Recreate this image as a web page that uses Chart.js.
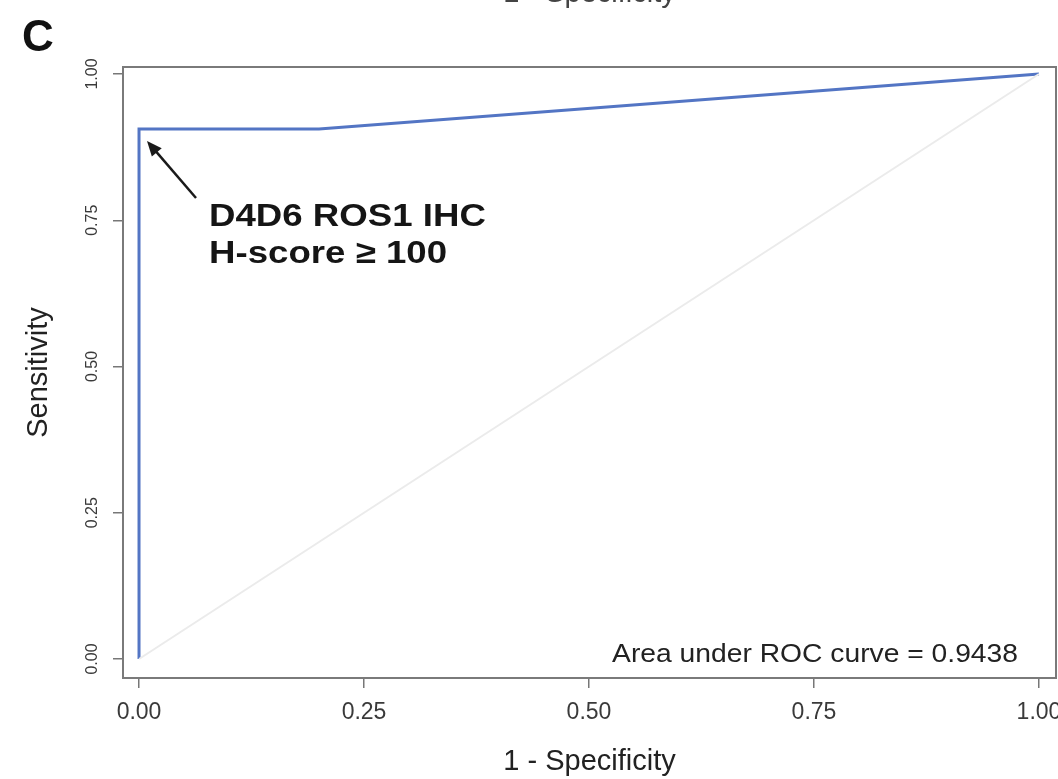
<!DOCTYPE html>
<html>
<head>
<meta charset="utf-8">
<script src="https://cdn.jsdelivr.net/npm/chart.js@4/dist/chart.umd.min.js"></script>
<style>
  html, body { margin: 0; padding: 0; background: #ffffff; }
  #wrap { width: 1058px; height: 779px; position: relative; }
</style>
</head>
<body>
<div id="wrap"><canvas id="c" width="1058" height="779"></canvas></div>
<script>
// ---- data ----
const fpr = [0, 0, 0.2, 1];            // 1 - Specificity
const tpr = [0, 0.906, 0.906, 1];      // Sensitivity
const refX = [0, 1];                   // chance diagonal
const refY = [0, 1];
const cutIndex = 1;                    // point marked by the arrow
const xTickValues = [0, 0.25, 0.5, 0.75, 1];
const xTickLabels = ['0.00', '0.25', '0.50', '0.75', '1.00'];
const yTickValues = [0, 0.25, 0.5, 0.75, 1];
const yTickLabels = ['0.00', '0.25', '0.50', '0.75', '1.00'];
const xTitle = '1 - Specificity';
const yTitle = 'Sensitivity';
const panelLabel = 'C';
const prevPanelTitle = '1 - Specificity';
const cutoffLabel = ['D4D6 ROS1 IHC', 'H-score \u2265 100'];
const aucText = 'Area under ROC curve = 0.9438';

const FONT = '"Liberation Sans", Arial, Helvetica, sans-serif';

const rocPoints = fpr.map((v, i) => ({ x: v, y: tpr[i] }));
const refPoints = refX.map((v, i) => ({ x: v, y: refY[i] }));

const decor = {
  id: 'decor',
  afterDraw(chart) {
    const { ctx, chartArea: a, scales: { x, y } } = chart;
    ctx.save();
    // plot box
    ctx.strokeStyle = '#7a7a7a';
    ctx.lineWidth = 2;
    ctx.strokeRect(a.left, a.top, a.right - a.left, a.bottom - a.top);

    // panel letter
    ctx.fillStyle = '#111111';
    ctx.font = 'bold 44px ' + FONT;
    ctx.textAlign = 'left';
    ctx.textBaseline = 'alphabetic';
    ctx.fillText(panelLabel, 22, 51);

    // cropped title of previous panel at the very top
    ctx.fillStyle = '#444444';
    ctx.font = '29px ' + FONT;
    ctx.textAlign = 'center';
    ctx.fillText(prevPanelTitle, (a.left + a.right) / 2, 2);

    // arrow to the cut-off point
    const px = x.getPixelForValue(fpr[cutIndex]);
    const py = y.getPixelForValue(tpr[cutIndex]);
    const tipX = px + 8, tipY = py + 12;
    const tailX = px + 57, tailY = py + 69;
    const ang = Math.atan2(tipY - tailY, tipX - tailX);
    const hl = 15, hw = 6.5;
    ctx.strokeStyle = '#1a1a1a';
    ctx.fillStyle = '#1a1a1a';
    ctx.lineWidth = 2.5;
    ctx.beginPath();
    ctx.moveTo(tailX, tailY);
    ctx.lineTo(tipX - Math.cos(ang) * hl * 0.8, tipY - Math.sin(ang) * hl * 0.8);
    ctx.stroke();
    ctx.beginPath();
    ctx.moveTo(tipX, tipY);
    ctx.lineTo(tipX - Math.cos(ang) * hl + Math.sin(ang) * hw, tipY - Math.sin(ang) * hl - Math.cos(ang) * hw);
    ctx.lineTo(tipX - Math.cos(ang) * hl - Math.sin(ang) * hw, tipY - Math.sin(ang) * hl + Math.cos(ang) * hw);
    ctx.closePath();
    ctx.fill();

    // cut-off label (bold, slightly wide)
    ctx.fillStyle = '#151515';
    ctx.font = 'bold 32px ' + FONT;
    ctx.textAlign = 'left';
    cutoffLabel.forEach((t, i) => {
      ctx.save();
      ctx.translate(px + 70, py + 97 + i * 37);
      ctx.scale(1.145, 1);
      ctx.fillText(t, 0, 0);
      ctx.restore();
    });

    // AUC text
    ctx.fillStyle = '#222222';
    ctx.font = '25px ' + FONT;
    ctx.save();
    ctx.translate(a.right - 38, a.bottom - 16);
    ctx.scale(1.13, 1);
    ctx.textAlign = 'right';
    ctx.fillText(aucText, 0, 0);
    ctx.restore();

    ctx.restore();
  }
};

new Chart(document.getElementById('c'), {
  type: 'scatter',
  data: {
    datasets: [
      {
        label: 'chance',
        data: refPoints,
        showLine: true,
        borderColor: '#ebebeb',
        borderWidth: 2,
        pointRadius: 0,
        fill: false
      },
      {
        label: 'ROC',
        data: rocPoints,
        showLine: true,
        borderColor: '#5375c4',
        borderWidth: 3,
        pointRadius: 0,
        tension: 0,
        fill: false
      }
    ]
  },
  options: {
    responsive: false,
    animation: false,
    devicePixelRatio: 1,
    layout: { padding: { top: 67, right: 2, bottom: 0, left: 0 } },
    plugins: { legend: { display: false }, tooltip: { enabled: false }, title: { display: false } },
    scales: {
      x: {
        type: 'linear',
        min: -0.0178,
        max: 1.0189,
        afterBuildTicks: s => { s.ticks = xTickValues.map(v => ({ value: v })); },
        afterFit: s => { s.height = 101; s.paddingLeft = 0; s.paddingRight = 0; },
        ticks: {
          callback: (v, i) => xTickLabels[i],
          font: { family: FONT, size: 23 },
          color: '#3a3a3a',
          padding: 11,
          maxRotation: 0,
          minRotation: 0,
          autoSkip: false
        },
        grid: { drawOnChartArea: false, drawTicks: true, tickLength: 10, color: '#777777', lineWidth: 1.5 },
        border: { display: true, color: '#7a7a7a', width: 2 },
        title: { display: true, text: xTitle, color: '#222222', font: { family: FONT, size: 29 }, padding: { top: 0, bottom: 0 } }
      },
      y: {
        type: 'linear',
        min: -0.0325,
        max: 1.012,
        afterBuildTicks: s => { s.ticks = yTickValues.map(v => ({ value: v })); },
        afterFit: s => { s.width = 123; s.paddingTop = 0; s.paddingBottom = 0; },
        ticks: {
          callback: (v, i) => yTickLabels[i],
          font: { family: FONT, size: 16 },
          color: '#3a3a3a',
          padding: 5,
          minRotation: 90,
          maxRotation: 90,
          crossAlign: 'center',
          autoSkip: false
        },
        grid: { drawOnChartArea: false, drawTicks: true, tickLength: 10, color: '#777777', lineWidth: 1.5 },
        border: { display: true, color: '#7a7a7a', width: 2 },
        title: { display: true, text: yTitle, color: '#222222', font: { family: FONT, size: 29 }, padding: { top: 22, bottom: 0 } }
      }
    }
  },
  plugins: [decor]
});
</script>
</body>
</html>
